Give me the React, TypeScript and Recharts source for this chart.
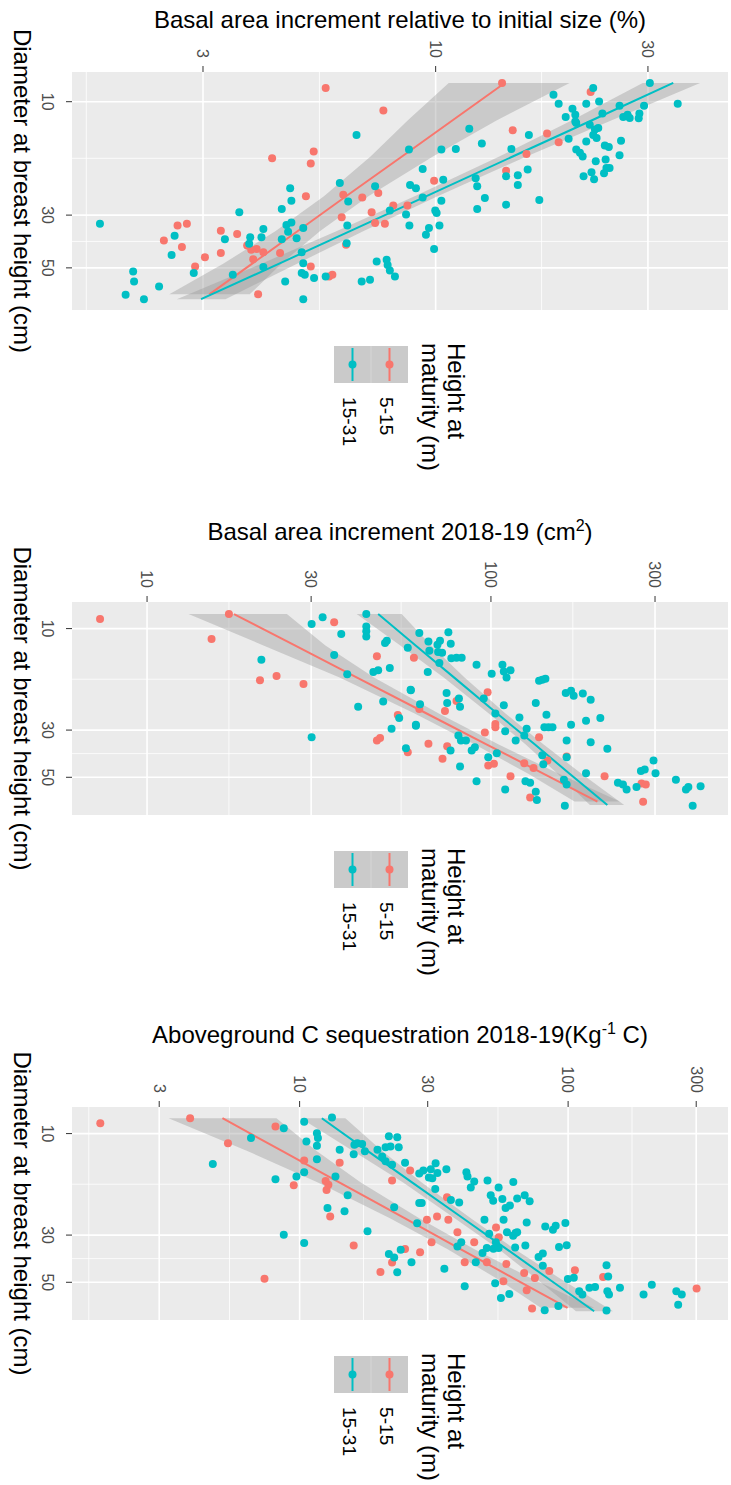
import React from 'react';
import { ComposedChart, Scatter, Line, Area, XAxis, YAxis, CartesianGrid } from 'recharts';

const RED = '#F8766D';
const TEAL = '#00BFC4';
const FONT = '"Liberation Sans", Arial, Helvetica, sans-serif';
const H = 731;

// Diameter at breast height axis (shared)
const dbhDomain: [number, number] = [7.5, 75.2];
const dbhTicks = [10, 30, 50];
const dbhMinor = [17.3, 38.7];

const groupLabels = ['5-15', '15-31'];

type Pt = [number, number]; // [DBH (cm), response]

// ---------- Panel 1: BAI relative to initial size (%) ----------
const p1Ticks = [3, 10, 30];
const p1Minor = [1.64, 5.48, 17.3];
const p1Domain: [number, number] = [1.523, 45.4];
const p1Red: Pt[] = [
  [8.76, 5.66], [17.3, 4.29], [16.2, 5.32], [18.2, 5.24], [25.0, 5.11], [24.6, 6.2], [30.6, 6.15], [40.0, 6.29],
  [33.2, 2.63], [32.6, 2.76], [38.4, 2.45], [40.9, 2.69], [34.9, 3.29], [36.0, 3.58], [43.3, 3.29], [45.1, 3.03],
  [49.3, 2.88], [40.3, 3.77], [41.6, 3.96], [42.0, 3.85], [43.0, 4.1], [43.3, 4.47], [46.0, 3.89], [49.3, 5.24],
  [54.3, 5.76], [53.5, 5.86], [64.6, 3.99], [8.34, 14.1], [9.11, 22.3], [10.9, 7.63], [13.2, 14.9], [13.6, 17.8],
  [14.8, 18.9], [16.6, 16.0], [19.5, 14.4], [21.5, 9.92], [25.3, 6.84], [24.2, 7.43], [29.2, 7.18], [27.3, 8.03],
  [27.3, 8.64], [32.4, 7.31], [32.6, 7.69],
];
const p1Teal: Pt[] = [
  [32.6, 1.76], [13.8, 6.64], [23.1, 4.71], [26.1, 4.74], [28.3, 4.51], [29.2, 3.62], [22.0, 6.09], [26.3, 6.36],
  [33.2, 6.33], [39.4, 6.31], [33.0, 4.62], [32.2, 4.74], [35.2, 4.66], [37.9, 4.51], [37.5, 4.87], [34.0, 5.04],
  [34.3, 4.1], [37.2, 4.06], [37.2, 3.83], [39.6, 3.81], [37.9, 3.36], [36.6, 2.59], [44.1, 2.55], [52.6, 2.86],
  [51.8, 2.09], [57.1, 2.1], [64.8, 2.01], [67.7, 2.21], [59.9, 2.39], [53.5, 3.5], [49.6, 4.1], [57.1, 4.59],
  [43.0, 5.0], [47.8, 5.04], [52.6, 5.0], [53.5, 5.08], [55.2, 5.33], [54.3, 5.66], [67.7, 5.04],
  [22.7, 7.31], [15.9, 8.71], [19.2, 9.35], [22.4, 8.76], [23.1, 9.03], [25.3, 9.35], [15.9, 10.3], [15.8, 11.1],
  [13.0, 11.9], [15.0, 12.7], [15.8, 14.8], [21.3, 10.4], [21.0, 12.3], [22.7, 12.4], [25.4, 12.9], [28.3, 12.4],
  [20.6, 14.4], [20.4, 15.3], [22.4, 15.3], [19.3, 16.1], [27.1, 14.4], [25.9, 17.1], [26.1, 10.3], [28.7, 9.98],
  [29.4, 10.05], [33.2, 10.2], [34.0, 9.66], [36.3, 9.51], [41.6, 9.92], [33.2, 8.73], [29.8, 8.58], [28.7, 7.89],
  [47.0, 7.37], [46.2, 7.76], [48.6, 7.8], [51.3, 7.89], [54.3, 8.1], [56.1, 7.12], [57.1, 6.82],
  [9.34, 18.4], [10.2, 18.9], [11.6, 19.6], [10.7, 20.3], [11.35, 20.6], [12.3, 20.7], [10.2, 21.8], [8.76, 22.6],
  [9.97, 23.3], [11.2, 23.7], [10.4, 25.9], [11.6, 26.4], [11.35, 27.0], [11.7, 27.3], [11.2, 28.7], [11.75, 28.6],
  [10.4, 29.4], [8.34, 30.3], [10.2, 35.0], [12.5, 22.2], [13.1, 22.8], [12.9, 23.2], [13.8, 22.6], [14.2, 23.0],
  [14.7, 21.8], [14.3, 19.9], [15.9, 20.7], [16.4, 21.1], [17.0, 21.4], [17.8, 22.9], [17.5, 24.1], [15.3, 24.0],
  [15.5, 24.5], [14.6, 26.1], [16.8, 25.9], [19.0, 24.2], [19.0, 24.6], [20.0, 23.9], [20.6, 21.5], [19.8, 22.4],
  [21.2, 22.7], [12.1, 20.6], [13.8, 16.2],
];
const p1RedFitD = [8.34, 12, 17, 25, 35, 48, 64.6];
const p1RedFit = [14.3, 10.9, 8.4, 6.29, 4.9, 3.87, 3.1];
const p1RedLo = [10.7, 8.65, 7.14, 5.61, 4.37, 3.33, 2.52];
const p1RedHi = [20.0, 13.7, 9.86, 7.06, 5.5, 4.5, 3.82];
const p1TealFitD = [8.34, 12, 17, 25, 35, 48, 67.7];
const p1TealFit = [34.2, 22.4, 14.9, 9.51, 6.42, 4.45, 2.97];
const p1TealLo = [29.2, 20.2, 13.9, 8.97, 6.0, 4.06, 2.62];
const p1TealHi = [39.3, 24.8, 16.0, 10.1, 6.89, 4.88, 3.37];

// ---------- Panel 2: Basal area increment 2018-19 (cm2) ----------
const p2Ticks = [10, 30, 100, 300];
const p2Minor = [17.3, 54.8, 173];
const p2Domain: [number, number] = [6.05, 489];
const p2Red: Pt[] = [
  [9.02, 7.3], [11.2, 15.4], [8.55, 17.3], [17.5, 21.3], [16.7, 23.8], [18.2, 28.5], [9.34, 35.0], [13.5, 46.6],
  [25.5, 53.6], [33.6, 46.6], [32.7, 47.6], [38.1, 57.3], [13.7, 59.7], [19.9, 97.8], [28.1, 103], [29.1, 103],
  [21.9, 79.4], [24.4, 73.5], [23.9, 61.9], [34.8, 65.8], [35.7, 74.6], [40.9, 72.3], [44.0, 98.2], [43.2, 102],
  [30.8, 96.0], [49.4, 114], [32.4, 138], [42.9, 125], [45.2, 133], [41.7, 146], [39.9, 166], [49.4, 214],
  [53.5, 274], [54.0, 282], [65.2, 277], [62.2, 130],
];
const p2Teal: Pt[] = [
  [14.0, 21.5], [9.51, 30.1], [8.85, 32.4], [10.6, 36.7], [13.3, 35.0], [16.4, 38.2], [8.55, 43.4], [9.79, 43.4],
  [10.3, 43.4], [10.9, 43.4], [11.7, 49.2], [11.4, 49.8], [16.0, 45.5], [15.7, 47.0], [15.3, 50.8], [23.3, 41.1],
  [22.0, 48.6], [19.5, 58.5], [29.6, 51.4], [26.3, 54.1], [28.6, 60.5], [32.4, 30.1], [36.5, 56.6], [12.3, 57.3],
  [10.5, 61.9], [22.7, 62.2],
  [11.5, 65.8], [11.9, 69.9], [11.4, 71.1], [10.4, 75.2], [11.8, 76.4], [12.7, 66.2], [12.9, 70.2], [13.0, 72.1],
  [13.8, 76.7], [13.7, 79.4], [13.7, 82.2], [16.0, 65.5], [14.5, 70.8], [14.8, 90.8], [16.3, 100.5], [14.8, 108],
  [15.9, 109], [17.0, 111], [15.7, 114], [17.4, 141], [17.6, 138], [17.2, 144], [22.4, 135], [25.4, 145],
  [20.1, 165], [19.6, 171], [20.7, 174], [20.2, 185], [21.6, 195], [26.3, 208], [27.1, 189], [28.3, 171],
  [29.1, 143], [29.1, 147], [29.1, 151], [33.6, 166], [34.2, 195], [36.7, 218], [21.3, 80.7], [23.3, 81.3],
  [22.4, 74.6], [20.1, 74.3], [19.4, 58.4], [28.3, 60.5], [26.2, 121], [22.9, 109], [25.1, 103], [21.3, 95.3],
  [29.6, 127], [33.6, 118], [30.4, 110], [31.8, 125], [31.8, 80.4], [33.6, 81.8], [33.6, 84.6], [37.4, 87.9],
  [36.1, 89.8], [37.4, 76.3], [44.5, 81.3], [52.2, 90.8], [40.2, 98.2], [38.5, 104], [57.0, 110], [52.2, 126],
  [53.1, 130], [58.5, 135], [64.0, 136], [68.0, 164], [40.2, 166], [39.4, 141], [43.4, 142], [54.0, 166],
  [51.3, 163], [47.8, 189], [53.1, 234], [54.0, 242], [57.0, 248], [55.5, 265], [46.7, 273], [46.0, 280],
  [41.7, 297], [47.8, 301], [51.3, 345], [57.0, 369], [55.5, 375], [55.1, 407], [68.0, 386],
];
const p2RedFitD = [8.55, 12, 17, 25, 35, 48, 65];
const p2RedFit = [17.9, 26.9, 40.8, 64.8, 97.0, 142, 204];
const p2RedLo = [13.2, 21.8, 36.3, 59.8, 89.5, 128, 175];
const p2RedHi = [25.5, 33.0, 45.7, 70.3, 105, 157, 237];
const p2TealFitD = [8.55, 12, 17, 25, 35, 48, 67.5];
const p2TealFit = [47.0, 60.4, 78.2, 104, 134, 169, 218];
const p2TealLo = [40.7, 54.5, 72.9, 98.4, 126, 156, 194];
const p2TealHi = [55.0, 67.0, 83.8, 110, 142, 183, 244];

// ---------- Panel 3: Aboveground C sequestration 2018-19 ----------
const p3Ticks = [3, 10, 30, 100, 300];
const p3Minor = [1.64, 5.48, 17.3, 54.8, 173];
const p3Domain: [number, number] = [1.42, 394];
const p3Red: Pt[] = [
  [8.94, 1.81], [8.47, 3.91], [11.1, 5.41], [9.27, 8.13], [13.4, 10.4], [13.7, 14.1], [16.7, 12.5], [18.4, 12.6],
  [17.4, 12.8], [17.5, 9.51], [24.5, 13.0], [33.6, 15.9], [34.9, 24.7], [40.4, 22.1], [44.7, 20.0], [48.1, 7.4],
  [16.6, 22.1], [14.9, 25.8], [19.9, 35.4], [24.5, 32.5], [25.4, 35.8], [25.4, 29.8], [32.4, 31.0], [36.1, 28.1],
  [29.1, 38.7], [32.4, 44.7], [40.3, 41.2], [27.6, 53.9], [30.7, 55.2], [40.3, 49.8], [41.0, 58.9], [45.2, 68.6],
  [49.4, 57.4], [47.7, 75.2], [54.5, 70.1], [44.3, 85.1], [66.4, 73.4], [43.9, 106], [47.2, 135], [53.5, 301],
];
const p3Teal: Pt[] = [
  [13.9, 4.75], [10.5, 6.59], [9.44, 8.73], [8.79, 10.4], [8.41, 13.2], [10.9, 10.6], [9.96, 11.6], [10.5, 11.7],
  [11.4, 11.6], [11.9, 14.1], [13.2, 11.6], [12.5, 15.9], [11.1, 16.4], [11.2, 17.1], [11.3, 16.0], [12.1, 17.5],
  [15.9, 9.73], [15.2, 10.4], [16.4, 8.13], [15.9, 13.6], [19.5, 15.1], [22.4, 12.7], [23.2, 14.7], [29.9, 8.73],
  [32.7, 10.4], [28.8, 17.9], [36.8, 21.5], [38.2, 22.5], [35.2, 23.8], [40.3, 26.1], [44.9, 23.1], [10.3, 21.5],
  [10.4, 23.1], [11.6, 23.4], [11.9, 19.5], [11.6, 20.9], [11.5, 21.8], [12.8, 20.3], [13.5, 20.9], [14.0, 22.1],
  [13.7, 24.7], [15.4, 27.9], [22.2, 22.5], [21.2, 27.9], [26.4, 27.4],
  [14.9, 28.9], [14.7, 30.8], [13.8, 32.1], [15.3, 32.6], [16.2, 31.2], [16.1, 30.3], [14.7, 35.2], [18.2, 32.0],
  [21.2, 28.5], [20.5, 36.6], [21.1, 39.3], [15.2, 41.8], [15.9, 42.2], [16.8, 44.7], [17.9, 43.4], [16.6, 50.1],
  [17.9, 55.1], [16.9, 62.5], [19.5, 51.5], [20.7, 52.6], [20.3, 56.9], [22.4, 58.5], [21.8, 60.7], [20.2, 64.6],
  [19.5, 68.9], [20.8, 71.9], [25.4, 48.8], [25.4, 57.5], [26.2, 70.1], [29.1, 59.2], [30.2, 62.4], [29.3, 63.7],
  [29.1, 64.6], [27.3, 82.2], [28.3, 87.8], [27.1, 89.9], [26.3, 97.7], [34.1, 92.5], [33.5, 98.8], [33.6, 69.3],
  [38.0, 77.6], [36.6, 80.5], [41.8, 80.5], [34.3, 63.5], [32.4, 53.8], [34.5, 55.1], [34.5, 49.8], [34.8, 52.7],
  [29.6, 50.8], [32.4, 40.0], [33.9, 38.7], [40.2, 45.3], [36.4, 48.0], [52.2, 41.2], [50.5, 53.5], [59.2, 56.2],
  [56.7, 60.4], [67.6, 81.8], [48.2, 99.8], [47.6, 105], [55.1, 110], [57.1, 113], [53.1, 120], [52.6, 126],
  [41.6, 139], [46.9, 141], [55.1, 140], [57.1, 142], [53.1, 156], [57.1, 191], [51.3, 205], [55.1, 253],
  [57.1, 265], [63.7, 257], [67.9, 139], [64.7, 92.0], [43.2, 34.6],
];
const p3RedFitD = [8.47, 12, 17, 25, 35, 48, 65.9];
const p3RedFit = [5.16, 8.53, 14.1, 24.6, 39.9, 62.9, 99.5];
const p3RedLo = [3.25, 6.32, 11.7, 21.7, 35.6, 54.2, 79.1];
const p3RedHi = [8.2, 11.5, 16.9, 27.9, 44.8, 73.1, 125];
const p3TealFitD = [8.47, 12, 17, 25, 35, 48, 68.4];
const p3TealFit = [12.1, 17.8, 26.3, 40.6, 59.2, 84.2, 125];
const p3TealLo = [10.1, 15.7, 24.3, 37.8, 55.2, 75.9, 107];
const p3TealHi = [14.8, 20.2, 28.5, 43.4, 63.4, 93.3, 147];

// ---------- helpers to build library data ----------
const pts = (a: Pt[]) => a.map(([d, v]) => ({ d, v }));
const fit = (d: number[], v: number[]) => d.map((x, i) => ({ d: x, v: v[i] }));
const band = (d: number[], lo: number[], hi: number[]) => d.map((x, i) => ({ d: x, r: [lo[i], hi[i]] }));

const DOT_R = 4;
const dotShape = (color: string) => (props: any) => (
  <circle cx={props.cx} cy={props.cy} r={DOT_R} fill={color} stroke="none" />
);

interface PanelDef {
  top: number;
  width: number;
  plotLeft: number;
  plotRight: number;
  titleX: number;
  title: React.ReactNode;
  yDomain: [number, number];
  yTicks: number[];
  yMinor: number[];
  red: Pt[];
  teal: Pt[];
  redLine: { d: number; v: number }[];
  tealLine: { d: number; v: number }[];
  redBand: { d: number; r: number[] }[];
  tealBand: { d: number; r: number[] }[];
}

const PLOT_TOP = 3;
const PLOT_BOTTOM = 659;

function Panel({ p }: { p: PanelDef }) {
  const cy = (PLOT_TOP + PLOT_BOTTOM) / 2;
  const cx = (p.plotLeft + p.plotRight) / 2;
  const lx = p.plotRight;
  const tickStyle = { fill: '#4D4D4D', fontSize: 16, fontFamily: FONT };
  const keys = [
    { y: 323, color: RED, label: groupLabels[0] },
    { y: 360, color: TEAL, label: groupLabels[1] },
  ];
  return (
    <div
      style={{
        position: 'absolute',
        left: 0,
        top: p.top,
        width: p.width,
        height: H,
        transformOrigin: '0 0',
        transform: `translate(${H}px, 0px) rotate(90deg)`,
      }}
    >
      <ComposedChart
        width={p.width}
        height={H}
        margin={{ top: PLOT_TOP, right: p.width - p.plotRight, bottom: 0, left: 0 }}
        style={{ fontFamily: FONT }}
      >
        <CartesianGrid
          fill="#EBEBEB"
          stroke="#FFFFFF"
          strokeWidth={0.8}
          verticalValues={dbhMinor}
          horizontalValues={p.yMinor}
        />
        <CartesianGrid stroke="#FFFFFF" strokeWidth={1.6} verticalValues={dbhTicks} horizontalValues={p.yTicks} />
        <XAxis
          type="number"
          dataKey="d"
          scale="log"
          domain={dbhDomain}
          allowDataOverflow
          ticks={dbhTicks}
          interval={0}
          height={H - PLOT_BOTTOM}
          axisLine={false}
          tickSize={6}
          tickMargin={12.7}
          tickLine={{ stroke: '#333333' }}
          tick={tickStyle}
        />
        <YAxis
          type="number"
          dataKey="v"
          scale="log"
          domain={p.yDomain}
          allowDataOverflow
          ticks={p.yTicks}
          interval={0}
          width={p.plotLeft}
          axisLine={false}
          tickSize={6}
          tickMargin={8}
          tickLine={{ stroke: '#333333' }}
          tick={tickStyle}
        />
        <Scatter data={pts(p.red)} fill={RED} shape={dotShape(RED)} isAnimationActive={false} />
        <Scatter data={pts(p.teal)} fill={TEAL} shape={dotShape(TEAL)} isAnimationActive={false} />
        <Area
          data={p.redBand}
          dataKey="r"
          type="linear"
          stroke="none"
          fill="#999999"
          fillOpacity={0.4}
          activeDot={false}
          isAnimationActive={false}
        />
        <Line data={p.redLine} dataKey="v" type="linear" stroke={RED} strokeWidth={2} dot={false} activeDot={false} isAnimationActive={false} />
        <Area
          data={p.tealBand}
          dataKey="r"
          type="linear"
          stroke="none"
          fill="#999999"
          fillOpacity={0.4}
          activeDot={false}
          isAnimationActive={false}
        />
        <Line data={p.tealLine} dataKey="v" type="linear" stroke={TEAL} strokeWidth={2} dot={false} activeDot={false} isAnimationActive={false} />
      </ComposedChart>
      <svg
        width={p.width}
        height={H}
        style={{ position: 'absolute', left: 0, top: 0, overflow: 'visible', pointerEvents: 'none' }}
        fontFamily={FONT}
      >
        <text
          x={p.titleX}
          y={cy}
          transform={`rotate(-90 ${p.titleX} ${cy})`}
          textAnchor="middle"
          fontSize={24}
          fill="#000000"
        >
          {p.title}
        </text>
        <text x={cx} y={717} textAnchor="middle" fontSize={24} fill="#000000">
          Diameter at breast height (cm)
        </text>
        <text x={lx + 33} y={283} fontSize={24} fill="#000000">
          Height at
        </text>
        <text x={lx + 33} y={309} fontSize={24} fill="#000000">
          maturity (m)
        </text>
        {keys.map((k) => (
          <g key={k.label}>
            <rect x={lx + 36} y={k.y} width={37} height={37} fill="#CACACA" />
            <line x1={lx + 38} x2={lx + 71} y1={k.y + 18.5} y2={k.y + 18.5} stroke={k.color} strokeWidth={2} />
            <circle cx={lx + 54.5} cy={k.y + 18.5} r={DOT_R} fill={k.color} />
            <text x={lx + 87} y={k.y + 21.5} dominantBaseline="central" fontSize={19.2} fill="#000000">
              {k.label}
            </text>
          </g>
        ))}
        <line x1={lx + 36} x2={lx + 73} y1={360} y2={360} stroke="#D6D6D6" strokeWidth={1} />
      </svg>
    </div>
  );
}

const panels: PanelDef[] = [
  {
    top: 0,
    width: 500,
    plotLeft: 72,
    plotRight: 310,
    titleX: 28,
    title: 'Basal area increment relative to initial size (%)',
    yDomain: p1Domain,
    yTicks: p1Ticks,
    yMinor: p1Minor,
    red: p1Red,
    teal: p1Teal,
    redLine: fit(p1RedFitD, p1RedFit),
    tealLine: fit(p1TealFitD, p1TealFit),
    redBand: band(p1RedFitD, p1RedLo, p1RedHi),
    tealBand: band(p1TealFitD, p1TealLo, p1TealHi),
  },
  {
    top: 500,
    width: 500,
    plotLeft: 102,
    plotRight: 315,
    titleX: 40,
    title: (
      <>
        <tspan>Basal area increment 2018-19 (cm</tspan>
        <tspan dy={-9} fontSize={16}>2</tspan>
        <tspan dy={9}>)</tspan>
      </>
    ),
    yDomain: p2Domain,
    yTicks: p2Ticks,
    yMinor: p2Minor,
    red: p2Red,
    teal: p2Teal,
    redLine: fit(p2RedFitD, p2RedFit),
    tealLine: fit(p2TealFitD, p2TealFit),
    redBand: band(p2RedFitD, p2RedLo, p2RedHi),
    tealBand: band(p2TealFitD, p2TealLo, p2TealHi),
  },
  {
    top: 1000,
    width: 485,
    plotLeft: 107,
    plotRight: 320,
    titleX: 43,
    title: (
      <>
        <tspan>Aboveground C sequestration 2018-19(Kg</tspan>
        <tspan dy={-9} fontSize={16}>-1</tspan>
        <tspan dy={9}> C)</tspan>
      </>
    ),
    yDomain: p3Domain,
    yTicks: p3Ticks,
    yMinor: p3Minor,
    red: p3Red,
    teal: p3Teal,
    redLine: fit(p3RedFitD, p3RedFit),
    tealLine: fit(p3TealFitD, p3TealFit),
    redBand: band(p3RedFitD, p3RedLo, p3RedHi),
    tealBand: band(p3TealFitD, p3TealLo, p3TealHi),
  },
];

export default function App() {
  return (
    <div
      style={{
        position: 'absolute',
        left: 0,
        top: 0,
        width: 731,
        height: 1485,
        overflow: 'hidden',
        background: '#FFFFFF',
        fontFamily: FONT,
      }}
    >
      {panels.map((p, i) => (
        <Panel key={i} p={p} />
      ))}
    </div>
  );
}
